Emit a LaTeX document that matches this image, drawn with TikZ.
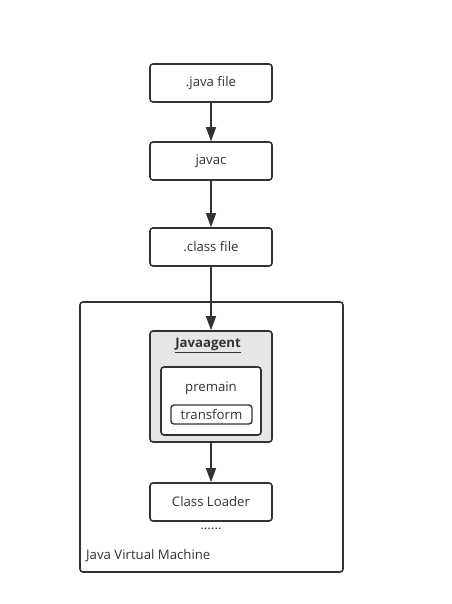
\documentclass[tikz,border=0pt]{standalone}
\usepackage{fontspec}
\setmainfont{Open Sans}
\usetikzlibrary{arrows.meta}

\definecolor{ccline}{RGB}{51,51,51}
\definecolor{ccagent}{RGB}{230,230,230}

\tikzset{
  box/.style={draw=ccline, line width=1.6pt, rounded corners=3pt, fill=white,
    minimum width=122pt, minimum height=38pt, inner sep=0pt, font=\fontsize{13.2}{15}\selectfont, text=ccline},
  flow/.style={-{Triangle[length=14pt,width=10pt]}, draw=ccline, line width=1.6pt},
  label/.style={font=\fontsize{13.2}{15}\selectfont, text=ccline, inner sep=0pt}
}

\begin{document}
\begin{tikzpicture}[x=1pt, y=-1pt]

  \useasboundingbox (0,0) rectangle (451,604);

  % JVM
  \draw[ccline, line width=1.6pt, rounded corners=3pt] (80,302) rectangle (343,572);
  \node[label, anchor=west] (jvm) at (86,556) {Java Virtual Machine};

  % Compile
  \node[box] (java) at (211,83) {.java file};
  \node[box] (javac) at (211,161) {javac};
  \node[box] (class) at (211,247) {.class file};

  % Agent
  \node[box, fill=ccagent, minimum height=111pt] (agent) at (211,386.5) {};
  \node[label] (agenttitle) at (208,345) {\underline{\textbf{Javaagent}}};
  \node[box, minimum width=100pt, minimum height=68pt] (premain) at (211,401) {};
  \node[label] (premaintitle) at (211,388) {premain};
  \node[box, minimum width=81pt, minimum height=19pt, line width=1.4pt] (transform) at (211.5,414.5) {transform};

  % Loader
  \node[box] (loader) at (211,502) {Class Loader};
  \node[label] (dots) at (211,529) {......};

  % Arrows
  \draw[flow] (java) -- (javac);
  \draw[flow] (javac) -- (class);
  \draw[flow] (class) -- (agent);
  \draw[flow] (agent) -- (loader);

\end{tikzpicture}
\end{document}
